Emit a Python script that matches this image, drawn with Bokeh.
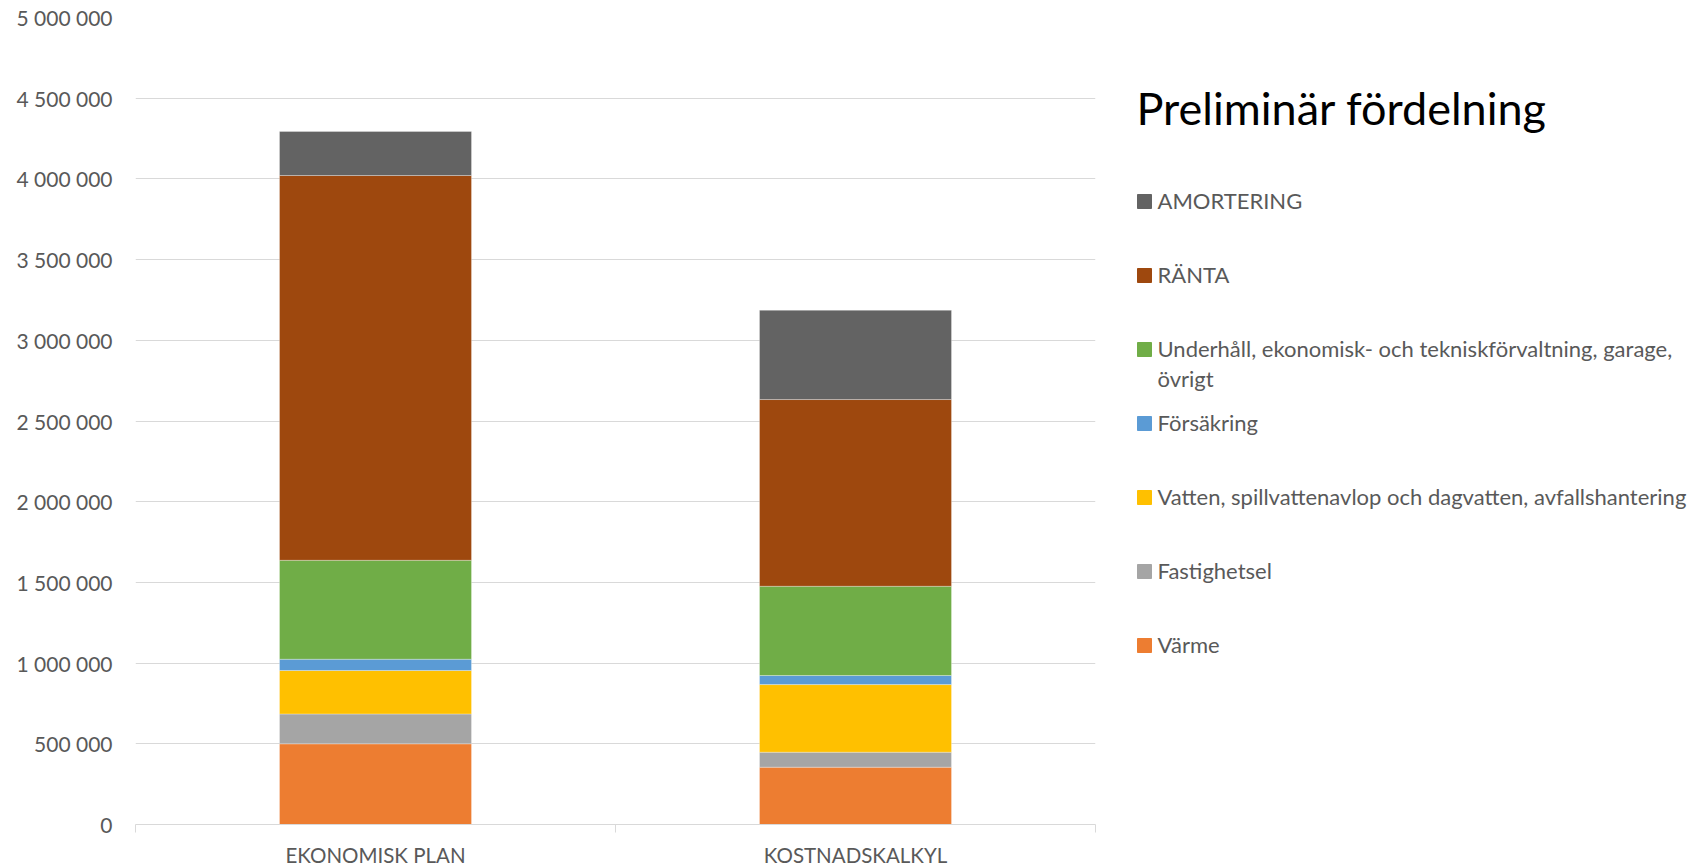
from bokeh.plotting import figure
from bokeh.models import ColumnDataSource, Range1d, LinearAxis, FixedTicker
from bokeh.layouts import row
from bokeh.core.properties import value
from bokeh.embed import file_html
from bokeh.resources import INLINE

# ---------------- data ----------------
categories = ["EKONOMISK PLAN", "KOSTNADSKALKYL"]
series = [
    "Värme",
    "Fastighetsel",
    "Vatten, spillvattenavlop och dagvatten, avfallshantering",
    "Försäkring",
    "Underhåll, ekonomisk- och tekniskförvaltning, garage,\növrigt",
    "RÄNTA",
    "AMORTERING",
]
varme = [500000, 355000]
fastighetsel = [185000, 93000]
vatten = [269000, 419000]
forsakring = [70000, 56000]
underhall = [613000, 553000]
ranta = [2384000, 1157000]
amortering = [273000, 553000]
colors = ["#ED7D31", "#A5A5A5", "#FFC000", "#5B9BD5", "#70AD47", "#9E480E", "#636363"]
y_ticks = [0, 500000, 1000000, 1500000, 2000000, 2500000, 3000000, 3500000, 4000000, 4500000, 5000000]
y_tick_labels = ["0", "500 000", "1 000 000", "1 500 000", "2 000 000", "2 500 000",
                 "3 000 000", "3 500 000", "4 000 000", "4 500 000", "5 000 000"]
legend_title = "Preliminär fördelning"

FONT = "Lato"
TXT = "#595959"
GRID = "#d9d9d9"

n = len(categories)
xpos = [i + 0.5 for i in range(n)]          # category centres on a 0..n scale
keys = ["s%d" % i for i in range(len(series))]
data = {"cat": categories, "x": xpos}
for k, vals in zip(keys, [varme, fastighetsel, vatten, forsakring, underhall, ranta, amortering]):
    data[k] = vals
source = ColumnDataSource(data)

TOP, FH, BOT = 17, 807, 43

p = figure(x_range=Range1d(0, n), y_range=Range1d(0, 5000000),
           frame_width=960, frame_height=FH,
           min_border_left=135, min_border_right=25, min_border_top=TOP, min_border_bottom=BOT,
           output_backend="svg", toolbar_location=None, x_axis_location=None)

p.vbar_stack(keys, x="x", width=0.4, color=colors, source=source,
             line_color="white", line_width=0.5, line_alpha=0.6)

# y axis
ya = p.yaxis[0]
ya.ticker = FixedTicker(ticks=y_ticks)
ya.major_label_overrides = {t: l for t, l in zip(y_ticks, y_tick_labels)}
ya.axis_line_color = None
ya.major_tick_line_color = None
ya.minor_tick_line_color = None
ya.major_label_standoff = 17
ya.major_label_text_font = FONT
ya.major_label_text_font_size = "21px"
ya.major_label_text_color = TXT

# x axis line with ticks at category boundaries
ea = LinearAxis(ticker=FixedTicker(ticks=list(range(n + 1))))
ea.axis_line_color = GRID
ea.axis_line_width = 1
ea.major_tick_line_color = GRID
ea.major_tick_out = 8
ea.major_tick_in = 0
ea.minor_tick_line_color = None
ea.major_label_text_font_size = "0px"
ea.major_label_standoff = 0
ea.major_label_overrides = {i: "" for i in range(n + 1)}
p.add_layout(ea, "below")

# category labels
ca = LinearAxis(ticker=FixedTicker(ticks=xpos))
ca.major_label_overrides = {x: c for x, c in zip(xpos, categories)}
ca.axis_line_color = None
ca.major_tick_line_color = None
ca.minor_tick_line_color = None
ca.major_label_standoff = 4
ca.major_label_text_font = FONT
ca.major_label_text_font_size = "20.5px"
ca.major_label_text_color = TXT
p.add_layout(ca, "below")

p.xgrid.visible = False
p.ygrid.grid_line_color = GRID
p.ygrid.grid_line_width = 1
p.outline_line_color = None

# ---------------- legend panel ----------------
# frame aligned with the chart's frame; y units = page pixels from the top
LW = 583
lg = figure(frame_width=LW, frame_height=FH,
            x_range=Range1d(0, LW), y_range=Range1d(TOP + FH, TOP),
            title=None, x_axis_location=None, y_axis_location=None,
            min_border_left=0, min_border_right=0, min_border_top=TOP, min_border_bottom=BOT,
            output_backend="svg", toolbar_location=None)
lg.grid.visible = False
lg.outline_line_color = None

order = list(range(len(series)))[::-1]
item_y0, pitch = 201, 74
ly = [item_y0 + pitch * i for i in range(len(order))]
lsrc = ColumnDataSource(dict(
    x=[24] * len(order), y=ly,
    tx=[37] * len(order), ty=[v - 14.5 for v in ly],
    label=[series[j] for j in order], color=[colors[j] for j in order]))
lg.rect(x="x", y="y", width=14, height=14, color="color", source=lsrc)
lg.text(x="tx", y="ty", text="label", source=lsrc, text_font=value(FONT),
        text_font_size="22px", text_color=TXT, text_baseline="top", text_line_height=1.1)
lg.text(x=[16], y=[107], text=[legend_title], text_font=value(FONT), text_font_size="45px",
        text_color="#000000", text_baseline="alphabetic")

layout = row(p, lg)
open("out.html", "w").write(file_html(layout, INLINE))
